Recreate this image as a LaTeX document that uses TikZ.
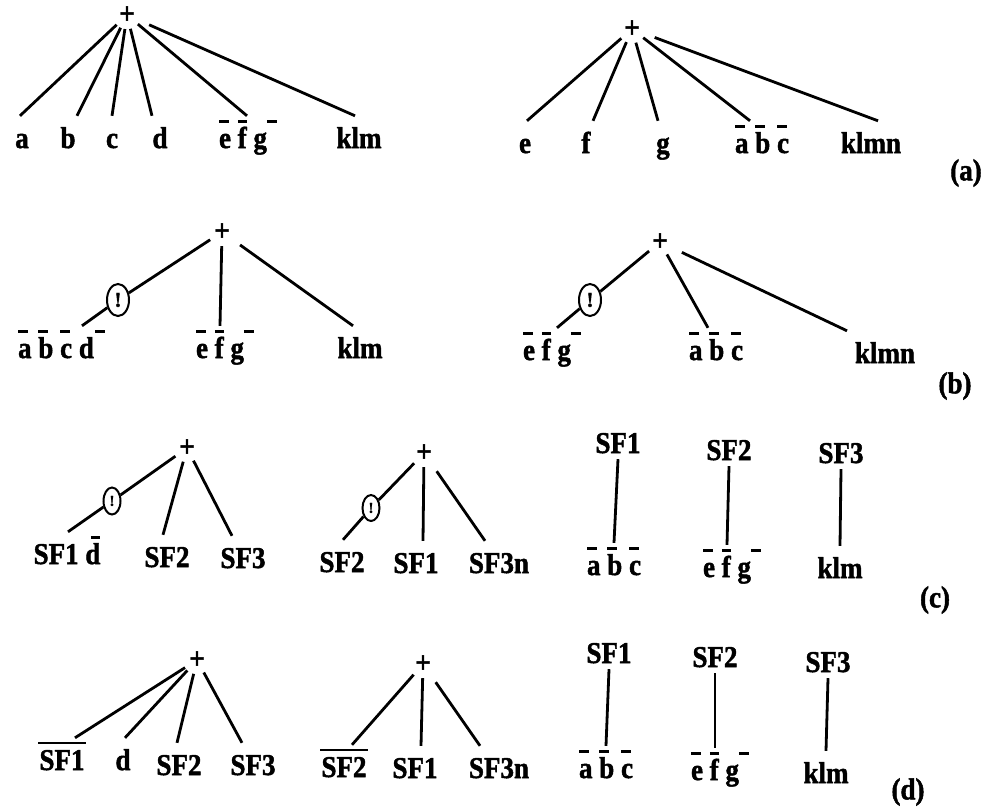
\documentclass[tikz,border=0pt]{standalone}
\usepackage{fontspec}
\setmainfont{Liberation Serif}[BoldFeatures={FakeBold=1.6}]
\usetikzlibrary{shapes.geometric}
\newsavebox{\lbbox}
\newlength{\sfw}
\tikzset{
  tall/.style={execute at begin node={\begin{lrbox}{\lbbox}},
    execute at end node={\end{lrbox}\scalebox{1}[1.12]{\usebox{\lbbox}}}},
  ln/.style={line width=2.8pt},
  lf/.style={tall,anchor=base,inner xsep=2pt,inner ysep=10pt,text height=22pt,text depth=0pt},
  hd/.style={lf,inner ysep=6pt},
  pl/.style={tall,circle,inner sep=0pt,minimum size=28pt},
  nt/.style={draw,ellipse,line width=2pt,inner sep=0pt,minimum width=22pt,minimum height=32pt,font=\fontsize{21}{21}\selectfont\bfseries},
  tag/.style={tall,anchor=center,inner sep=0pt}
}
\newcommand{\negb}[2][0em]{\makebox[0pt][l]{\hspace{#1}\rule[0.84em]{0.36em}{0.085em}}#2}
\newcommand{\negsf}[1]{\settowidth{\sfw}{#1}\makebox[0pt][l]{\hspace{-0.05em}\rule[0.86em]{\dimexpr\sfw+0.1em}{0.08em}}#1}

\begin{document}
\begin{tikzpicture}[x=1pt,y=-1pt,font=\fontsize{27}{32}\selectfont\bfseries]
\useasboundingbox (0,0) rectangle (992,807);
% (a)
\node[pl] (pa1) at (127,15) {+};
\node[lf] (a1) at (22,148) {a};
\node[lf] (b1) at (68,148) {b};
\node[lf] (c1) at (112,148) {c};
\node[lf] (d1) at (160,148) {d};
\node[lf] (efg1) at (243,148) {\negb{e} \negb{f} \negb[0.5em]{g}};
\node[lf] (klm1) at (359,148) {klm};
\foreach \t/\s in {a1/-2,b1/9,c1/0,d1/-8,efg1/4}
  \draw[ln] (pa1) -- ([xshift=\s pt]\t.north);
\draw[ln,shorten <=10pt] (pa1) -- ([xshift=-4pt]klm1.north);
\node[pl] (pa2) at (632,29) {+};
\node[lf] (e2) at (525,153) {e};
\node[lf] (f2) at (586,153) {f};
\node[lf] (g2) at (663,153) {g};
\node[lf] (abc2) at (762,153) {\negb{a} \negb{b} \negb{c}};
\node[lf] (klmn2) at (871,153) {klmn};
\foreach \t/\s in {e2/2,f2/7,g2/-5,abc2/-12}
  \draw[ln] (pa2) -- ([xshift=\s pt]\t.north);
\draw[ln,shorten <=10pt] (pa2) -- ([xshift=7pt]klmn2.north);
\node[tag] (ta) at (966,173) {(a)};
% (b)
\node[pl] (pb1) at (222,232) {+};
\node[nt] (nb1) at (118,300) {!};
\node[lf] (abcd3) at (56,358) {\negb{a} \negb{b} \negb{c} \negb[0.6em]{d}};
\node[lf] (efg3) at (220,358) {\negb{e} \negb{f} \negb[0.5em]{g}};
\node[lf] (klm3) at (360,358) {klm};
\draw[ln] (pb1) -- (nb1) -- ([xshift=26pt]abcd3.north);
\draw[ln] (pb1) -- (efg3.north);
\draw[ln,shorten <=8pt] (pb1) -- ([xshift=-7pt]klm3.north);
\node[pl] (pb2) at (660,242) {+};
\node[nt] (nb2) at (590,300) {!};
\node[lf] (efg4) at (547,360) {\negb{e} \negb{f} \negb[0.5em]{g}};
\node[lf] (abc4) at (716,360) {\negb{a} \negb{b} \negb{c}};
\node[lf] (klmn4) at (885,363) {klmn};
\draw[ln] (pb2) -- (nb2) -- ([xshift=10pt]efg4.north);
\draw[ln] (pb2) -- ([xshift=-8pt]abc4.north);
\draw[ln,shorten <=10pt] (pb2) -- ([xshift=-38pt]klmn4.north);
\node[tag] (tb) at (955,386) {(b)};
% (c)
\node[pl] (pc1) at (187,448) {+};
\node[nt,minimum width=17pt,minimum height=27pt,font=\fontsize{15}{15}\selectfont\bfseries] (nc1) at (112,501) {!};
\node[lf] (sfd5) at (67,564) {SF1 \negb[0.2em]{d}};
\node[lf] (sf25) at (167,567) {SF2};
\node[lf] (sf35) at (243,568) {SF3};
\draw[ln] (pc1) -- (nc1) -- ([xshift=1pt]sfd5.north);
\draw[ln] (pc1) -- ([xshift=-4pt]sf25.north);
\draw[ln] (pc1) -- ([xshift=-11pt]sf35.north);
\node[pl] (pc2) at (424,453) {+};
\node[nt,minimum width=17pt,minimum height=26pt,font=\fontsize{15}{15}\selectfont\bfseries] (nc2) at (371,508) {!};
\node[lf] (sf26) at (342,572) {SF2};
\node[lf] (sf16) at (416,573) {SF1};
\node[lf] (sf3n6) at (499,573) {SF3n};
\draw[ln] (pc2) -- (nc2) -- ([xshift=1pt]sf26.north);
\draw[ln] (pc2) -- ([xshift=7pt]sf16.north);
\draw[ln,shorten <=8pt] (pc2) -- ([xshift=-14pt]sf3n6.north);
\node[hd] (hf17) at (618,453) {SF1};
\node[lf] (abc7) at (614,575) {\negb{a} \negb{b} \negb{c}};
\node[hd] (hf27) at (729,460) {SF2};
\node[lf] (efg7) at (727,577) {\negb{e} \negb{f} \negb[0.5em]{g}};
\node[hd] (hf37) at (841,463) {SF3};
\node[lf] (klm7) at (840,578) {klm};
\draw[ln] (hf17.south) -- (abc7.north);
\draw[ln] (hf27.south) -- (efg7.north);
\draw[ln] (hf37.south) -- (klm7.north);
\node[tag] (tc) at (935,600) {(c)};
% (d)
\node[pl] (pd1) at (197,660) {+};
\node[lf] (sf18) at (62,770) {\negsf{SF1}};
\node[lf] (d8) at (123,770) {d};
\node[lf] (sf28) at (179,775) {SF2};
\node[lf] (sf38) at (253,775) {SF3};
\foreach \t/\s in {sf18/13,d8/2,sf28/-2,sf38/-11}
  \draw[ln] (pd1) -- ([xshift=\s pt]\t.north);
\node[pl] (pd2) at (423,664) {+};
\node[lf] (sf29) at (344,777) {\negsf{SF2}};
\node[lf] (sf19) at (415,778) {SF1};
\node[lf] (sf3n9) at (499,778) {SF3n};
\draw[ln] (pd2) -- ([xshift=8pt]sf29.north);
\draw[ln] (pd2) -- ([xshift=6pt]sf19.north);
\draw[ln,shorten <=8pt] (pd2) -- ([xshift=-19pt]sf3n9.north);
\node[hd] (hf110) at (609,663) {SF1};
\node[lf] (abc10) at (606,778) {\negb{a} \negb{b} \negb{c}};
\node[hd] (hf210) at (715,667) {SF2};
\node[lf] (efg10) at (715,780) {\negb{e} \negb{f} \negb[0.5em]{g}};
\node[hd] (hf310) at (828,672) {SF3};
\node[lf] (klm10) at (826,783) {klm};
\draw[ln] (hf110.south) -- (abc10.north);
\draw[ln] (hf210.south) -- (efg10.north);
\draw[ln] (hf310.south) -- (klm10.north);
\node[tag] (td) at (908,792) {(d)};
\end{tikzpicture}
\end{document}
